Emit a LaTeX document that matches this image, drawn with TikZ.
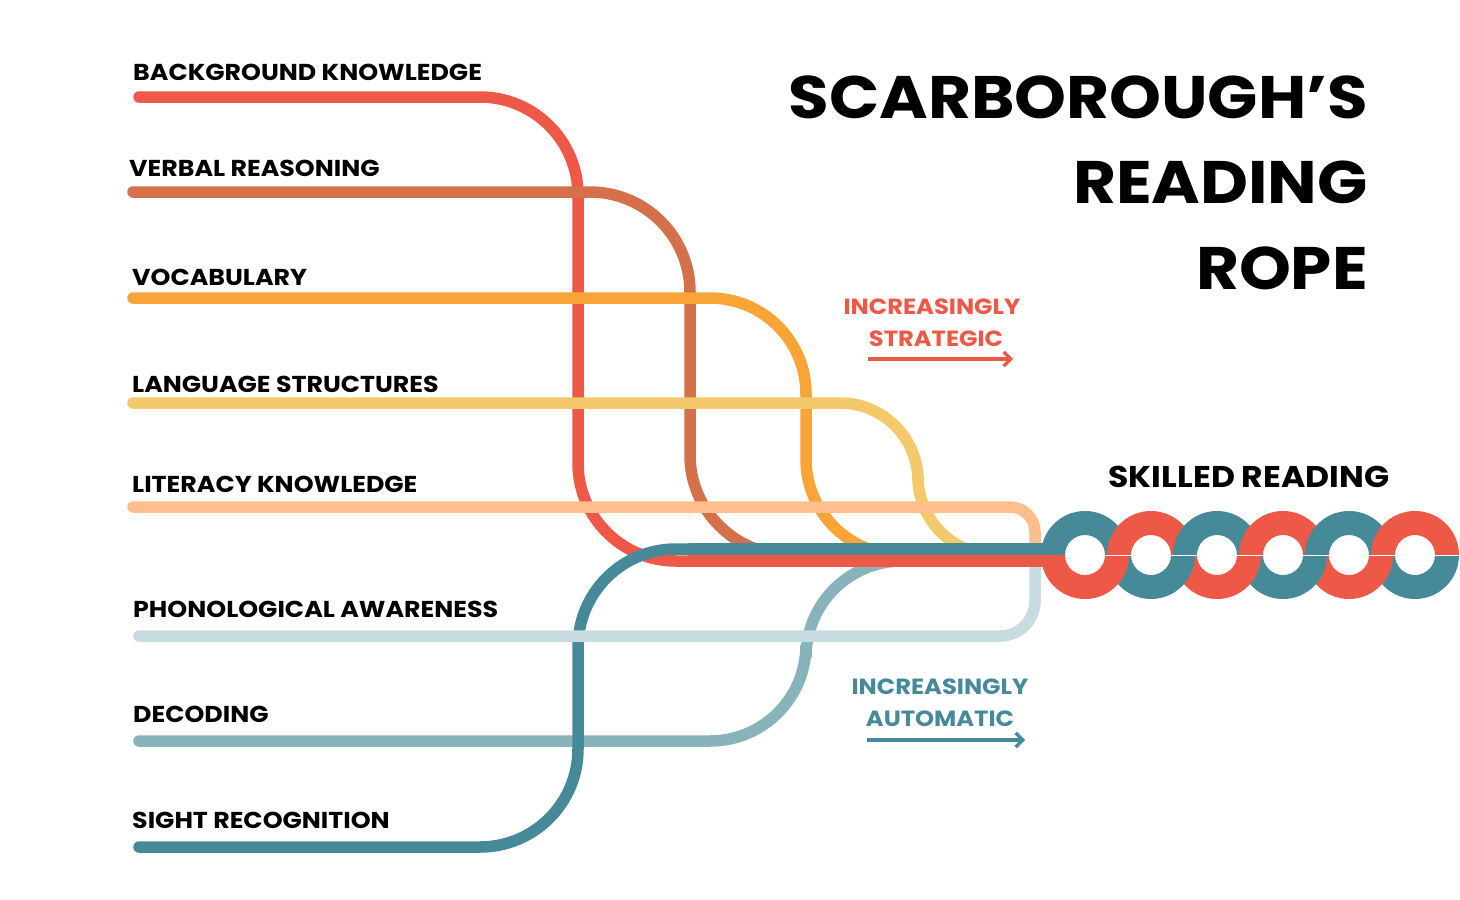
\documentclass[tikz,border=0pt]{standalone}
\usepackage{fontspec}
\setmainfont{Poppins}[FakeStretch=1.1]
\usetikzlibrary{arrows.meta}
\definecolor{cRed}{HTML}{EE5846}
\definecolor{cBrown}{HTML}{D4714A}
\definecolor{cOrange}{HTML}{F8A436}
\definecolor{cYellow}{HTML}{F4C96B}
\definecolor{cPeach}{HTML}{FFBE8C}
\definecolor{cLight}{HTML}{C6DCE1}
\definecolor{cDecode}{HTML}{88B3BB}
\definecolor{cTeal}{HTML}{468A9A}
\tikzset{
  strand/.style={line width=11.5pt, line cap=round, rounded corners=#1},
  lbl/.style={anchor=base west, inner sep=0pt, font=\bfseries\fontsize{23}{23}\selectfont},
  ttl/.style={anchor=base east, inner sep=0pt, font=\bfseries\fontsize{60}{60}\selectfont},
  sub/.style={anchor=base, inner sep=0pt, font=\bfseries\fontsize{22}{22}\selectfont},
  trend/.style={line width=3.3pt, -{Straight Barb[length=7pt,width=14pt]}}
}
\begin{document}
\begin{tikzpicture}[x=1pt,y=-1pt]
\useasboundingbox (0,0) rectangle (1460,900);
% rope rings
\foreach \i in {5,4,3,2,1,0}{
  \pgfmathsetmacro{\cx}{1085+66*\i}
  \ifodd\i \def\bc{cTeal}\else\def\bc{cRed}\fi
  \fill[\bc] (\cx+44,555) arc[start angle=0,end angle=180,radius=44] -- (\cx-20,555) arc[start angle=180,end angle=0,radius=20] -- cycle;
}
\foreach \i in {0,1,2,3,4,5}{
  \pgfmathsetmacro{\cx}{1085+66*\i}
  \ifodd\i \def\tc{cRed}\else\def\tc{cTeal}\fi
  \fill[\tc] (\cx+44,555) arc[start angle=0,end angle=-180,radius=44] -- (\cx-20,555) arc[start angle=-180,end angle=0,radius=20] -- cycle;
}
\draw[white, line width=0.7pt] (1105,555) -- (1460,555);
% strands
\draw[strand=98, cRed] (139,97) -- (578,97) -- (578,561) -- (1058,561);
\draw[strand=100, cBrown] (133,192) -- (690,192) -- (690,555) -- (800,555);
\draw[strand=96, cOrange] (133,298) -- (806,298) -- (806,555) -- (920,555);
\draw[strand=78, cYellow] (133,403) -- (918,403) -- (918,555) -- (1000,555);
\draw[strand=25, cPeach] (133,507) -- (1035,507) -- (1035,560);
\draw[strand=96, cDecode] (139,741) -- (806,741) -- (806,561) -- (950,561);
\draw[strand=98, cTeal] (139,847) -- (578,847) -- (578,549) -- (1058,549);
\draw[strand=35, cLight] (139,636) -- (1035,636) -- (1035,550);
\draw[line width=11.5pt, line cap=round, cRed] (690,561) -- (1058,561);
\draw[line width=11.5pt, line cap=round, cTeal] (690,549) -- (1058,549);
% labels
\node[lbl] (l1) at (133,80) {BACKGROUND KNOWLEDGE};
\node[lbl] (l2) at (129,176) {VERBAL REASONING};
\node[lbl] (l3) at (132,285) {VOCABULARY};
\node[lbl] (l4) at (132,392) {LANGUAGE STRUCTURES};
\node[lbl] (l5) at (132,492) {LITERACY KNOWLEDGE};
\node[lbl] (l6) at (133,617) {PHONOLOGICAL AWARENESS};
\node[lbl] (l7) at (133,722) {DECODING};
\node[lbl] (l8) at (132,828) {SIGHT RECOGNITION};
% title
\node[ttl] (t1) at (1368,118) {SCARBOROUGH’S};
\node[ttl] (t2) at (1368,203) {READING};
\node[ttl] (t3) at (1368,289) {ROPE};
\node[anchor=base, inner sep=0pt, font=\bfseries\fontsize{30}{30}\selectfont] (sk) at (1249,487) {SKILLED READING};
% trends
\node[sub, text=cRed] (s1) at (932,314) {INCREASINGLY};
\node[sub, text=cRed] (s2) at (936,346) {STRATEGIC};
\coordinate (sa) at (868,359);
\coordinate (sb) at (1013,359);
\draw[trend, cRed] (sa) -- (sb);
\node[sub, text=cTeal] (a1) at (940,694) {INCREASINGLY};
\node[sub, text=cTeal] (a2) at (940,726) {AUTOMATIC};
\coordinate (aa) at (867,740);
\coordinate (ab) at (1025,740);
\draw[trend, cTeal] (aa) -- (ab);
\end{tikzpicture}
\end{document}
